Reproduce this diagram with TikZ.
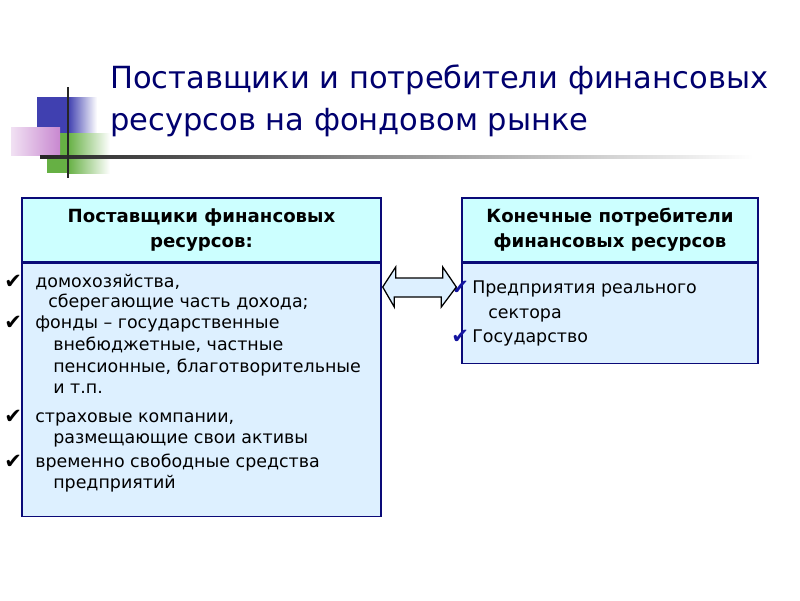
\documentclass[tikz,border=0pt]{standalone}
\usepackage{fontspec}
\setmainfont{DejaVu Sans}
\usepackage{xcolor}
\usetikzlibrary{positioning}

\definecolor{titleblue}{RGB}{0,0,110}
\definecolor{frameblue}{RGB}{10,10,120}
\definecolor{headcyan}{RGB}{204,255,255}
\definecolor{bodyblue}{RGB}{221,240,255}
\definecolor{sqblue}{RGB}{64,64,176}
\definecolor{sqgreen}{RGB}{102,176,68}
\definecolor{sqpink}{RGB}{200,136,208}
\definecolor{tickblue}{RGB}{20,20,160}

\tikzset{
  headbox/.style={draw=frameblue, line width=1pt, fill=headcyan, align=center,
    font=\fontsize{12.9}{17.8}\selectfont\bfseries},
  bodybox/.style={draw=frameblue, line width=1pt, fill=bodyblue},
  line/.style={anchor=base west, inner sep=0pt, font=\fontsize{12.4}{15}\selectfont},
  tick/.style={anchor=base west, inner sep=0pt, font=\fontsize{15}{15}\selectfont},
  titleline/.style={anchor=base west, inner sep=0pt, text=titleblue,
    font=\fontsize{21.7}{24}\selectfont}
}

\begin{document}
\begin{tikzpicture}[x=0.025cm, y=-0.025cm]
\useasboundingbox (0,0) rectangle (800,600);

% corner squares
\fill[sqblue] (37,97) rectangle (68,133);
\shade[left color=sqblue, right color=white] (68,97) rectangle (97,133);
\fill[sqgreen] (47,133) rectangle (68,173);
\shade[left color=sqgreen, right color=white] (68,133) rectangle (110,173);
\shade[left color=sqpink!25, right color=sqpink] (11,127) rectangle (60,155);

\shade[left color=black!85, right color=white] (40,155.8) rectangle (753,158.4);
\draw[black!85, line width=1.5pt] (68,87)--(68,178);

% title
\node[titleline] (t1) at (110,88) {Поставщики и потребители финансовых};
\node[titleline] (t2) at (110,130) {ресурсов на фондовом рынке};

% suppliers
\node[headbox, minimum width=359*0.025cm, minimum height=64*0.025cm] (sh) at (201.5,230)
  {Поставщики финансовых\\ресурсов:};
\node[bodybox, minimum width=359*0.025cm, minimum height=253*0.025cm, below=0pt of sh] (sb) {};

\node[tick] (sk1) at (4,288) {✔};
\node[line] (s1) at (35,287) {домохозяйства,};
\node[line] (s2) at (48,307) {сберегающие часть дохода;};
\node[tick] (sk2) at (4,329) {✔};
\node[line] (s3) at (35,328) {фонды – государственные};
\node[line] (s4) at (53,350) {внебюджетные, частные};
\node[line] (s5) at (53,372) {пенсионные, благотворительные};
\node[line] (s6) at (53,393) {и т.п.};
\node[tick] (sk3) at (4,423) {✔};
\node[line] (s7) at (35,422) {страховые компании,};
\node[line] (s8) at (53,443) {размещающие свои активы};
\node[tick] (sk4) at (4,468) {✔};
\node[line] (s9) at (35,467) {временно свободные средства};
\node[line] (s10) at (53,488) {предприятий};

% consumers
\node[headbox, minimum width=296*0.025cm, minimum height=64*0.025cm] (ch) at (610,230)
  {Конечные потребители\\финансовых ресурсов};
\node[bodybox, minimum width=296*0.025cm, minimum height=100*0.025cm, below=0pt of ch] (cb) {};

\node[tick, text=tickblue] (ck1) at (451,294) {✔};
\node[line] (c1) at (472,293) {Предприятия реального};
\node[line] (c2) at (488,318) {сектора};
\node[tick, text=tickblue] (ck2) at (451,343) {✔};
\node[line] (c3) at (472,342) {Государство};

% double arrow between the boxes
\coordinate (al) at (sb.east |- 0,287);
\coordinate (ar) at (cb.west |- 0,287);
\draw[black, line width=0.9pt, fill=bodyblue]
  ([xshift=0.025cm]al) -- ++(13,-20) -- ++(0,11) -- ++(47,0) -- ++(0,-11)
  -- ([xshift=-0.125cm]ar) -- ++(-15,20) -- ++(0,-10) -- ++(-47,0) -- ++(0,10) -- cycle;

\end{tikzpicture}
\end{document}
